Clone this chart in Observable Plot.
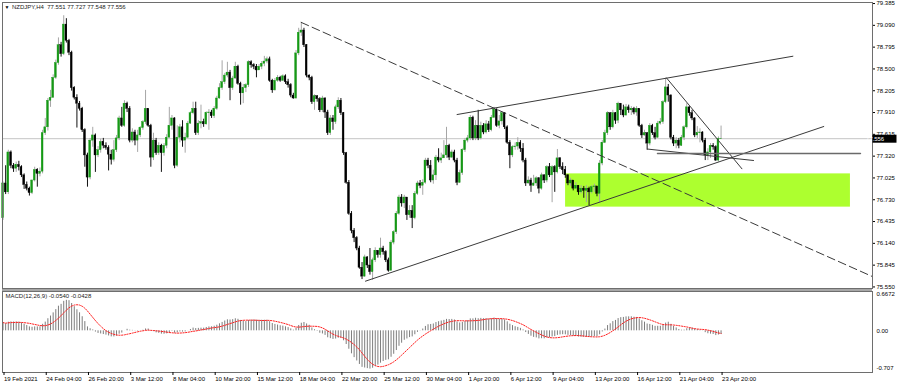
<!DOCTYPE html>
<html>
<head>
<meta charset="utf-8">
<script src="https://cdn.jsdelivr.net/npm/d3@7"></script>
<script src="https://cdn.jsdelivr.net/npm/@observablehq/plot@0.6"></script>
<style>
  html, body { margin: 0; padding: 0; background: #fff; }
  #chart { width: 900px; height: 387px; overflow: hidden; font-family: "Liberation Sans", Arial, sans-serif; }
  #chart svg { display: block; }
</style>
</head>
<body>
<div id="chart"></div>
<script>
// ---------------- DATA ----------------
const symbolTitle = "NZDJPY,H4";
const headerValues = ["77.551", "77.727", "77.548", "77.556"];
const firstOpen = 76.48;
const lastOpen = 77.551;

// H4 closes, 19 Feb 2021 12:00 ... 23 Apr 2021 20:00 (273 bars)
const closes = [
76.95,76.83,77.37,77.19,77.15,77.20,77.17,77.06,76.93,76.88,
76.82,76.99,77.13,77.08,77.11,77.63,77.71,78.07,78.11,78.38,
78.58,78.82,78.70,79.10,78.88,78.72,78.24,78.11,78.03,77.96,
77.67,77.33,77.03,77.53,77.60,77.33,77.40,77.51,77.46,77.43,
77.34,77.27,77.40,77.56,77.83,77.73,78.03,77.96,77.53,77.64,
77.53,77.60,77.70,77.78,77.96,77.73,77.30,77.53,77.36,77.46,
77.36,77.46,77.57,77.73,77.83,77.19,77.57,77.71,77.53,77.57,
77.76,77.90,77.96,77.63,77.76,77.78,77.75,77.90,77.91,77.86,
77.96,78.10,78.24,78.32,78.41,78.45,78.24,78.37,78.53,78.30,
78.17,78.24,78.28,78.59,78.55,78.53,78.48,78.53,78.57,78.60,
78.63,78.34,78.21,78.34,78.38,78.34,78.40,78.32,78.28,78.14,
78.10,78.71,78.99,79.02,78.82,78.41,78.38,78.05,78.13,78.09,
77.94,78.10,77.91,77.63,77.83,77.78,77.98,78.07,77.90,77.36,
76.96,76.54,76.31,76.21,76.07,75.81,75.69,75.95,75.84,75.75,
75.91,76.04,75.98,76.07,76.02,75.91,75.77,76.15,76.29,76.54,
76.76,76.68,76.76,76.52,76.58,76.48,76.81,76.95,76.92,76.96,
77.26,77.19,76.99,77.06,77.30,77.26,77.29,77.33,77.46,77.30,
77.37,77.26,76.96,77.09,77.40,77.53,77.56,77.84,77.56,77.73,
77.56,77.73,77.64,77.75,77.67,77.84,77.95,77.73,77.79,77.90,
77.71,77.50,77.33,77.44,77.45,77.50,77.42,77.26,76.95,76.99,
76.92,76.95,77.02,76.88,77.06,76.99,77.17,77.06,77.17,77.10,
77.29,77.17,77.13,77.06,76.95,76.99,76.88,76.92,76.83,76.88,
76.85,76.88,76.83,76.90,76.91,76.81,77.22,77.50,77.63,77.90,
77.71,77.90,77.80,78.03,77.94,77.87,77.98,77.94,77.96,77.91,
77.96,77.73,77.60,77.63,77.49,77.73,77.63,77.57,77.76,77.78,
78.05,78.25,78.14,77.57,77.49,77.53,77.46,77.57,77.71,77.98,
77.90,77.83,77.60,77.63,77.64,77.53,77.33,77.37,77.46,77.44,
77.26,77.551,77.556
];
const highs = [
76.97,77.19,77.40,77.39,77.22,77.24,77.25,77.19,77.08,76.97,
76.90,77.00,77.17,77.15,77.16,77.67,77.83,78.10,78.21,78.42,
78.62,78.92,78.86,79.22,79.18,78.90,78.74,78.26,78.15,78.06,
77.98,77.69,77.36,77.56,77.71,77.62,77.45,77.55,77.56,77.50,
77.46,77.40,77.53,77.60,77.86,77.98,78.07,78.05,77.99,77.69,
77.67,77.67,77.72,77.80,78.21,77.96,77.75,77.63,77.56,77.50,
77.48,77.49,77.61,77.98,77.87,77.84,77.73,77.75,77.80,77.63,
77.79,77.92,78.05,78.05,77.80,78.01,77.82,77.92,77.95,77.94,
77.99,78.13,78.30,78.61,78.44,78.59,78.48,78.40,78.59,78.55,
78.32,78.29,78.30,78.61,78.61,78.57,78.56,78.56,78.60,78.67,
78.66,78.66,78.36,78.37,78.41,78.40,78.42,78.42,78.36,78.30,
78.17,78.75,79.05,79.13,79.05,78.83,78.42,78.40,78.15,78.14,
78.11,78.13,78.11,77.94,77.87,77.87,78.01,78.11,78.10,77.91,
77.37,76.99,76.57,76.34,76.23,76.10,75.88,75.98,75.96,76.07,
75.94,76.08,76.04,76.21,76.10,76.04,75.94,76.18,76.31,76.57,
76.79,76.80,76.79,76.76,76.65,76.65,76.84,76.98,76.99,77.00,
77.29,77.29,77.26,77.13,77.33,77.42,77.36,77.53,77.71,77.48,
77.40,77.40,77.29,77.13,77.42,77.56,77.60,77.87,77.86,77.80,
77.94,77.78,77.76,77.80,77.79,77.87,77.98,77.96,77.87,77.92,
77.91,77.73,77.53,77.46,77.50,77.57,77.53,77.49,77.29,77.04,
77.02,77.06,77.04,77.03,77.09,77.07,77.19,77.22,77.19,77.19,
77.41,77.30,77.23,77.18,77.07,77.02,76.99,76.96,76.92,76.92,
76.91,76.92,76.90,76.92,76.94,76.91,77.26,77.53,77.67,77.92,
77.91,77.94,77.91,78.05,78.03,78.01,78.02,78.01,77.99,77.98,
77.99,77.96,77.75,77.67,77.64,77.76,77.75,77.71,77.79,77.83,
78.07,78.37,78.29,78.15,77.60,77.57,77.56,77.60,77.73,78.03,
77.99,77.94,77.84,77.72,77.69,77.65,77.56,77.42,77.49,77.49,
77.46,77.58,77.727
];
const lows = [
76.45,76.80,76.80,77.15,77.10,77.10,77.12,77.03,76.87,76.85,
76.78,76.80,76.97,76.90,77.04,77.08,77.60,77.66,77.98,78.10,
78.36,78.55,78.66,78.68,78.85,78.68,78.20,78.08,77.70,77.93,
77.64,77.17,76.90,77.00,77.44,77.10,77.30,77.36,77.42,77.40,
77.12,77.20,77.24,77.37,77.53,77.71,77.71,77.91,77.50,77.50,
77.46,77.37,77.57,77.67,77.75,77.71,77.17,77.26,77.33,77.33,
77.10,77.32,77.42,77.56,77.67,77.15,77.17,77.50,77.44,77.36,
77.56,77.75,77.88,77.60,77.60,77.69,77.71,77.74,77.67,77.83,
77.83,77.94,78.09,78.21,78.29,78.38,78.07,78.21,78.36,78.28,
78.01,78.03,78.18,78.25,78.51,78.49,78.38,78.48,78.49,78.53,
78.57,78.32,78.17,78.20,78.32,78.32,78.33,78.29,78.24,78.11,
78.09,78.09,78.68,78.94,78.79,78.38,78.34,78.02,77.94,78.05,
77.91,77.91,77.83,77.60,77.60,77.67,77.75,77.95,77.87,77.33,
76.94,76.52,76.27,76.15,76.04,75.79,75.65,75.68,75.80,75.71,
75.64,75.88,75.94,75.94,75.98,75.88,75.75,75.76,76.12,76.26,
76.52,76.63,76.61,76.45,76.48,76.34,76.46,76.79,76.88,76.79,
76.94,77.15,76.96,76.94,76.99,77.23,77.22,77.29,77.29,77.26,
77.29,77.23,76.92,76.95,77.06,77.37,77.50,77.53,77.53,77.53,
77.53,77.54,77.61,77.62,77.64,77.65,77.83,77.71,77.69,77.74,
77.68,77.48,77.15,77.30,77.40,77.40,77.37,77.23,76.91,76.94,
76.83,76.91,76.91,76.81,76.86,76.95,76.96,77.03,76.69,76.83,
77.08,77.14,77.07,77.02,76.92,76.91,76.85,76.87,76.79,76.81,
76.75,76.69,76.65,76.81,76.83,76.77,76.69,77.19,77.49,77.60,
77.67,77.69,77.75,77.76,77.87,77.84,77.86,77.90,77.87,77.88,
77.86,77.71,77.56,77.59,77.40,77.46,77.60,77.54,77.56,77.74,
77.75,78.03,78.05,77.54,77.45,77.42,77.42,77.45,77.53,77.69,
77.86,77.80,77.57,77.56,77.50,77.50,77.26,77.26,77.29,77.40,
77.25,77.24,77.548
];

const priceTicks = [79.385,79.090,78.795,78.500,78.205,77.910,77.615,77.320,77.025,76.730,76.435,76.140,75.845,75.550];
const xTickLabels = ["19 Feb 2021","24 Feb 04:00","26 Feb 20:00","3 Mar 12:00","8 Mar 04:00","10 Mar 20:00","15 Mar 12:00","18 Mar 04:00","22 Mar 20:00","25 Mar 12:00","30 Mar 04:00","1 Apr 20:00","6 Apr 12:00","9 Apr 04:00","13 Apr 20:00","16 Apr 12:00","21 Apr 04:00","23 Apr 20:00"];
const xTickStep = 16;

const macdFast = 12, macdSlow = 26, macdSignal = 9;
const macdAtStart = 0.14;          // MACD value read at the first bar
const macdLabel = "MACD(12,26,9) -0.0540 -0.0428";
const macdTicks = [0.6672, 0, -0.707];
const macdTickLabels = ["0.6672", "0.00", "-0.707"];

// drawn objects (bar index, price)
const zone = {i1: 213.1, i2: 321.0, p1: 77.08, p2: 76.63};
const trendDashed  = [{i: 112.95, p: 79.13}, {i: 330.0, p: 75.68}];
const trendUpper   = [{i: 172.0, p: 77.883}, {i: 299.2, p: 78.672}];
const trendRising  = [{i: 137.3, p: 75.628}, {i: 310.9, p: 77.721}];
const trendFalling = [{i: 251.3, p: 78.380}, {i: 279.9, p: 77.149}];
const trendFlat    = [{i: 244.1, p: 77.416}, {i: 284.3, p: 77.261}];
const levelLine    = [{i: 247.9, p: 77.356}, {i: 324.8, p: 77.356}];

// ---------------- BUILD ----------------
const lastClose = closes[closes.length - 1];
const bars = closes.map((c, i) => {
  const o = i === 0 ? firstOpen : (i === closes.length - 1 ? lastOpen : closes[i - 1]);
  return {i, o, c, h: highs[i], l: lows[i], bull: c >= o};
});
const bullBars = bars.filter(d => d.bull);
const bearBars = bars.filter(d => !d.bull);

function ema(arr, n, seed) {
  const k = 2 / (n + 1);
  let e = seed;
  return arr.map((v, i) => (e = i === 0 ? seed : v * k + e * (1 - k)));
}
const e12 = ema(closes, macdFast, closes[0]);
const e26 = ema(closes, macdSlow, closes[0] - macdAtStart);
const macdMain = closes.map((c, i) => e12[i] - e26[i]);
const macdSig = macdMain.map((v, i) => d3.mean(macdMain.slice(Math.max(0, i - macdSignal + 1), i + 1)));
const macdData = macdMain.map((m, i) => ({i, m, s: macdSig[i]}));

const xDomain = [-0.19, 329.36];
const font = {fontFamily: "'Liberation Sans', Arial, sans-serif", fontSize: "6px", background: "#fff", color: "#000", overflow: "visible"};
const bodyHalf = 0.34;

const lineStyle = {x: "i", y: "p", stroke: "#3a3a3a", strokeWidth: 1, clip: true};

const main = Plot.plot({
  width: 900, height: 289,
  marginLeft: 2, marginRight: 28, marginTop: 2, marginBottom: 1,
  style: font,
  x: {domain: xDomain, axis: null},
  y: {domain: [75.529, 79.399], label: null},
  marks: [
    Plot.rect([zone], {x1: "i1", x2: "i2", y1: "p1", y2: "p2", fill: "#adff2f"}),
    Plot.ruleY([lastClose], {stroke: "#c4c4c4", strokeWidth: 1}),
    Plot.ruleX(bullBars, {x: "i", y1: "l", y2: "h", stroke: "#a6a6a6", strokeWidth: 1}),
    Plot.ruleX(bearBars, {x: "i", y1: "l", y2: "h", stroke: "#111", strokeWidth: 1}),
    Plot.rect(bullBars, {x1: d => d.i - bodyHalf, x2: d => d.i + bodyHalf, y1: "o", y2: "c", fill: "#159a15", stroke: "#159a15", strokeWidth: 0.4}),
    Plot.rect(bearBars, {x1: d => d.i - bodyHalf, x2: d => d.i + bodyHalf, y1: "o", y2: "c", fill: "#000", stroke: "#000", strokeWidth: 0.4}),
    Plot.line(trendDashed, {...lineStyle, strokeDasharray: "8,4"}),
    Plot.line(trendUpper, lineStyle),
    Plot.line(trendRising, lineStyle),
    Plot.line(trendFalling, lineStyle),
    Plot.line(trendFlat, lineStyle),
    Plot.line(levelLine, {...lineStyle, stroke: "#6a6a6a", strokeWidth: 1.4}),
    Plot.frame({stroke: "#6e6e6e", strokeWidth: 1}),
    Plot.axisY({anchor: "right", ticks: priceTicks, tickFormat: d => d.toFixed(3), tickSize: 2, tickPadding: 2, fontSize: 6, label: null}),
    Plot.text(["\u25BC"], {frameAnchor: "top-left", dx: 2, dy: 3, fontSize: 5, fill: "#000"}),
    Plot.text([symbolTitle + "  " + headerValues.join(" ")], {frameAnchor: "top-left", dx: 9.5, dy: 2, fontSize: 6, fill: "#222"})
  ]
});

// current price box on the price axis
{
  const xs = main.scale("x"), ys = main.scale("y");
  const px = xs.apply(xDomain[1]) + 0.5, py = ys.apply(lastClose);
  const g = d3.select(main).append("g");
  g.append("rect").attr("x", px).attr("y", py - 3.5).attr("width", 24).attr("height", 8).attr("fill", "#000");
  g.append("text").attr("x", px + 2.5).attr("y", py + 0.6).attr("dy", "0.35em").attr("fill", "#fff")
    .attr("font-size", 6).attr("font-family", "'Liberation Sans', Arial, sans-serif").text(lastClose.toFixed(3));
}

const xTickIdx = xTickLabels.map((_, k) => k * xTickStep);
const macdDy = [3, 0, -4];

const macd = Plot.plot({
  width: 900, height: 98,
  marginLeft: 2, marginRight: 28, marginTop: 2, marginBottom: 15,
  style: font,
  x: {domain: xDomain, label: null},
  y: {domain: [-0.707, 0.6672], axis: null},
  marks: [
    Plot.ruleX(macdData, {x: "i", y1: 0, y2: "m", stroke: "#7d7d7d", strokeWidth: 1}),
    Plot.line(macdData, {x: "i", y: "s", stroke: "#ff2020", strokeWidth: 1, strokeDasharray: "1.3,1.4"}),
    Plot.frame({stroke: "#6e6e6e", strokeWidth: 1}),
    Plot.ruleY([0.6672], {stroke: "#8a8a8a", strokeWidth: 1.5, dy: -1.5}),
    Plot.axisX({ticks: xTickIdx, tickFormat: d => xTickLabels[Math.round(d / xTickStep)], tickSize: 3, tickPadding: 1, textAnchor: "start", dx: 1, fontSize: 6, label: null}),
    ...macdTicks.map((v, k) => Plot.text([v], {x: () => xDomain[1], y: d => d, text: () => macdTickLabels[k], dx: 4, dy: macdDy[k], textAnchor: "start", fontSize: 6, fill: "#000"})),
    Plot.text([macdLabel], {frameAnchor: "top-left", dx: 3, dy: 2, fontSize: 6, fill: "#222"})
  ]
});

const root = document.getElementById("chart");
root.appendChild(main);
root.appendChild(macd);
</script>
</body>
</html>
